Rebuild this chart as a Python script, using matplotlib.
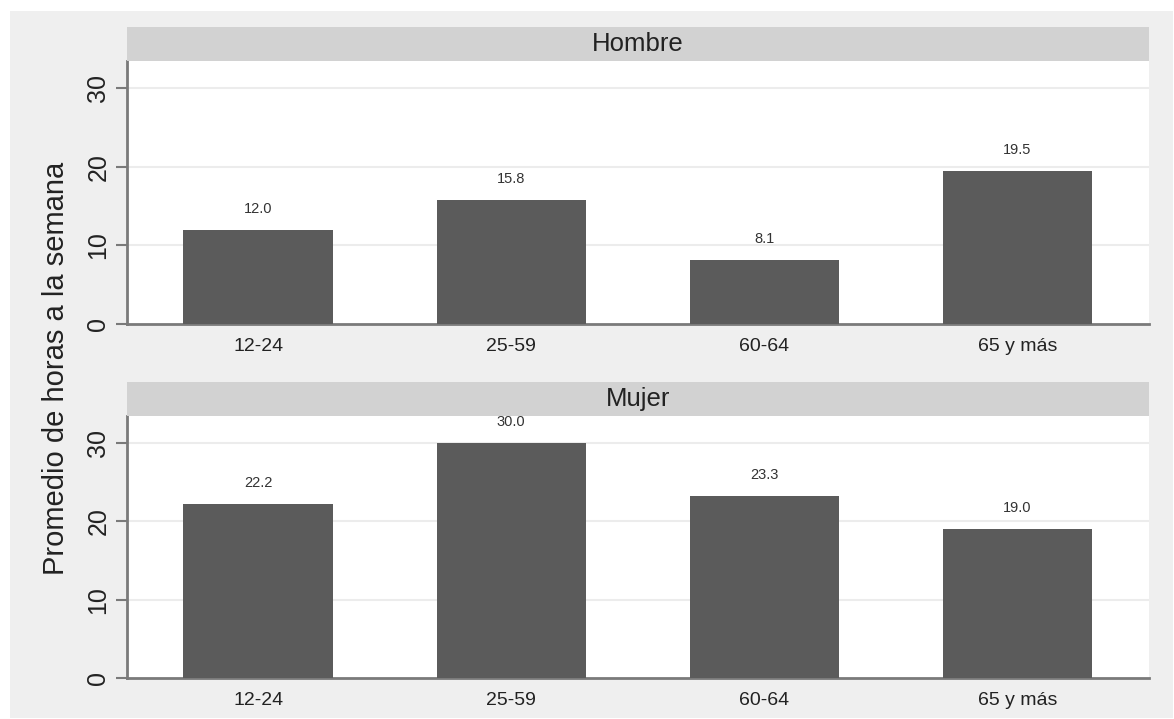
import matplotlib
matplotlib.use("Agg")
import matplotlib.pyplot as plt
from matplotlib.patches import Rectangle

categories = ["12-24", "25-59", "60-64", "65 y más"]
hombre = [12.0, 15.8, 8.1, 19.5]
mujer = [22.2, 30.0, 23.3, 19.0]
panels = ["Hombre", "Mujer"]
yticks = [0, 10, 20, 30]
ylabel = "Promedio de horas a la semana"

plt.rcParams['font.family'] = ['Liberation Sans', 'DejaVu Sans']

W, H = 1174, 719
fig = plt.figure(figsize=(W / 100, H / 100), dpi=100, facecolor="white")

# outer gray background
fig.patches.append(Rectangle((10 / W, 1 - 718 / H), (1173 - 10) / W, (718 - 11) / H,
                             transform=fig.transFigure, facecolor="#efefef",
                             edgecolor="none", zorder=-10))

def px_rect(x0, y0, x1, y1):
    return [x0 / W, 1 - y1 / H, (x1 - x0) / W, (y1 - y0) / H]

layout = [
    # (plot area, strip area)
    ((127, 61, 1149, 324), (127, 27, 1149, 61)),
    ((127, 416, 1149, 678), (127, 382, 1149, 416)),
]

bar_color = "#5b5b5b"
axis_color = "#7a7a7a"
x = list(range(len(categories)))

for (plot_px, strip_px), name, vals in zip(layout, panels, [hombre, mujer]):
    ax = fig.add_axes(px_rect(*plot_px))
    ax.set_facecolor("white")
    ax.bar(x, vals, width=0.59, color=bar_color, zorder=3)
    ax.set_xlim(-0.518, 3.52)
    ax.set_ylim(0, 33.45)
    ax.set_yticks(yticks)
    ax.set_yticklabels([str(t) for t in yticks], rotation=90, va="center",
                       fontsize=18, color="#222222")
    ax.set_xticks(x)
    ax.set_xticklabels(categories, fontsize=14, color="#222222")
    ax.tick_params(axis="y", length=8, width=1.5, color=axis_color, pad=4)
    ax.tick_params(axis="x", length=0, pad=10)
    for t in yticks[1:]:
        ax.axhline(t, color="#ececec", lw=1.5, zorder=1)
    for s in ["top", "right"]:
        ax.spines[s].set_visible(False)
    for s in ["left", "bottom"]:
        ax.spines[s].set_color(axis_color)
        ax.spines[s].set_linewidth(2)
    for xi, v in zip(x, vals):
        ax.annotate(f"{v:.1f}", (xi, v), xytext=(0, 10), textcoords="offset points",
                    ha="center", va="bottom", fontsize=10.5, color="#333333")
    # strip
    sax = fig.add_axes(px_rect(*strip_px))
    sax.set_facecolor("#d2d2d2")
    sax.set_xticks([])
    sax.set_yticks([])
    for s in sax.spines.values():
        s.set_visible(False)
    sax.text(0.5, 0.5, name, ha="center", va="center", fontsize=18.5,
             color="#222222", transform=sax.transAxes)

fig.text(56 / W, 1 - 368 / H, ylabel, rotation=90, ha="center", va="center",
         fontsize=21, color="#222222")

fig.savefig("out.png", dpi=100, facecolor=fig.get_facecolor())
